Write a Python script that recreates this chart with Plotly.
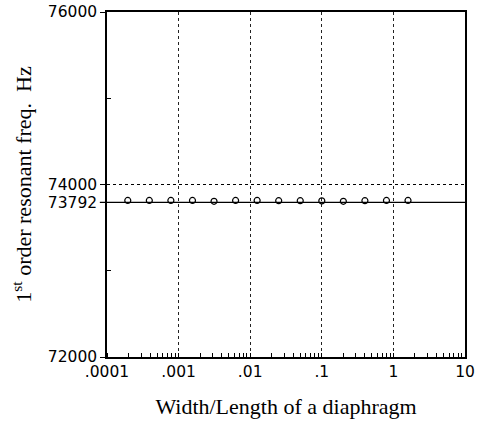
import plotly.graph_objects as go

# Data
width_ratio = [0.000195, 0.00039, 0.00078, 0.0015625, 0.003125, 0.00625, 0.0125,
               0.025, 0.05, 0.1, 0.2, 0.4, 0.8, 1.6]
freq = [73815, 73815, 73815, 73815, 73805, 73815, 73815,
        73812, 73812, 73810, 73805, 73812, 73815, 73815]
theory_freq = 73792
ref_freq = 74000

x_tickvals = [0.0001, 0.001, 0.01, 0.1, 1, 10]
x_ticktext = [".0001", ".001", ".01", ".1", "1", "10"]
y_tickvals = [72000, 73792, 74000, 76000]
y_ticktext = ["72000", "73792", "74000", "76000"]
y_minor = [73000, 75000]

tick_font = dict(family="DejaVu Sans, Arial", size=15.5, color="black")
title_font = dict(family="Liberation Serif, Times New Roman", size=22, color="black")

fig = go.Figure()
fig.add_trace(go.Scatter(
    x=width_ratio, y=freq, mode="markers",
    marker=dict(symbol="circle-open", size=6, color="black", line=dict(width=1.2)),
    showlegend=False, cliponaxis=False, hoverinfo="skip"))

fig.add_shape(type="line", xref="paper", yref="y", x0=0, x1=1, y0=ref_freq, y1=ref_freq,
              line=dict(color="black", width=1, dash="dot"), layer="below")
fig.add_shape(type="line", xref="paper", yref="y", x0=-0.02, x1=1, y0=theory_freq, y1=theory_freq,
              line=dict(color="black", width=1.2), layer="above")

fig.update_layout(
    width=485, height=426,
    margin=dict(l=107, r=20, t=12, b=69),
    paper_bgcolor="white", plot_bgcolor="white",
    font=dict(family="DejaVu Sans, Arial", size=15, color="black"),
)
fig.update_xaxes(
    type="log", range=[-4, 1], automargin=False, ticklabeloverflow="allow",
    tickmode="array", tickvals=x_tickvals, ticktext=x_ticktext,
    ticks="", showgrid=True, gridcolor="#222", griddash="dot", gridwidth=1,
    showline=True, linecolor="black", linewidth=1.5, mirror=True,
    minor=dict(dtick="D1", ticks="inside", ticklen=4, tickcolor="black", showgrid=False),
    tickfont=tick_font,
    title=dict(text="Width/Length of a diaphragm", font=title_font, standoff=18),
    zeroline=False,
)
fig.update_yaxes(
    range=[72000, 76000], automargin=False, ticklabeloverflow="allow",
    tickmode="array", tickvals=y_tickvals, ticktext=y_ticktext,
    ticks="outside", ticklen=5, tickcolor="black",
    showgrid=False,
    showline=True, linecolor="black", linewidth=1.5, mirror=True,
    minor=dict(tickmode="array", tickvals=y_minor, ticks="inside", ticklen=4, tickcolor="black"),
    tickfont=tick_font,
    title=dict(text="1<sup>st</sup> order resonant freq.\u00a0\u00a0Hz", font=title_font, standoff=10),
    zeroline=False,
)

# remove the browser's default 8px body margin so the figure fills the window
fig.write_html("out.html", config={"displayModeBar": False},
               post_script="document.body.style.margin='0';")
